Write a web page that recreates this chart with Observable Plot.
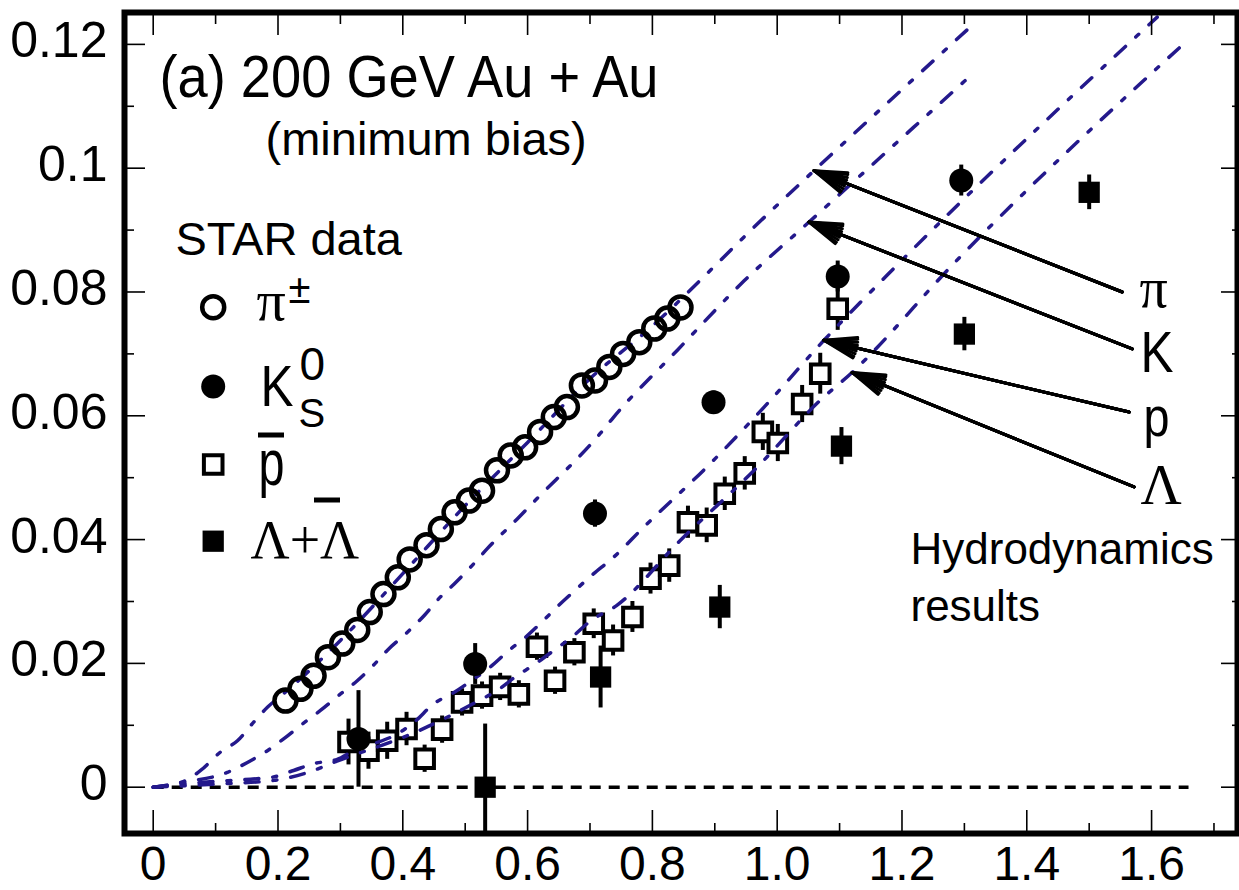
<!DOCTYPE html>
<html><head><meta charset="utf-8">
<script src="https://cdn.jsdelivr.net/npm/d3@7"></script>
<script src="https://cdn.jsdelivr.net/npm/@observablehq/plot@0.6"></script>
<style>body{margin:0;background:#fff} #chart svg{display:block}</style>
</head><body><div id="chart"></div><script>
// ---- axes ----
const xMajor = [0, 0.2, 0.4, 0.6, 0.8, 1.0, 1.2, 1.4, 1.6];
const xMajorLabels = ["0", "0.2", "0.4", "0.6", "0.8", "1.0", "1.2", "1.4", "1.6"];
const xMinor = [0.1, 0.3, 0.5, 0.7, 0.9, 1.1, 1.3, 1.5, 1.7];
const yMajor = [0, 0.02, 0.04, 0.06, 0.08, 0.1, 0.12];
const yMajorLabels = ["0", "0.02", "0.04", "0.06", "0.08", "0.1", "0.12"];
const yMinor = [0.01, 0.03, 0.05, 0.07, 0.09, 0.11];
const xDomain = [-0.046, 1.7377];
const yDomain = [-0.00748, 0.12515];

// ---- STAR data ----
const pionPt = [0.212,0.236,0.257,0.280,0.303,0.327,0.347,0.369,0.392,0.411,0.438,0.461,0.483,0.506,0.527,0.551,0.573,0.596,0.620,0.642,0.663,0.687,0.708,0.731,0.753,0.779,0.803,0.824,0.845];
const pionV2 = [0.0140,0.0159,0.0180,0.0210,0.0232,0.0254,0.0283,0.0312,0.0339,0.0368,0.0391,0.0417,0.0444,0.0463,0.0479,0.0512,0.0536,0.0549,0.0574,0.0598,0.0614,0.0649,0.0657,0.0679,0.0700,0.0719,0.0741,0.0757,0.0775];

const kaonPt  = [0.329, 0.516, 0.708, 0.898, 1.097, 1.295];
const kaonV2  = [0.0078, 0.0199, 0.0442, 0.0622, 0.0825, 0.0980];
const kaonErr = [0.0078, 0.0033, 0.0022, 0.0018, 0.0025, 0.0025];

const pbarPt  = [0.313,0.345,0.375,0.406,0.435,0.463,0.495,0.527,0.556,0.586,0.615,0.644,0.675,0.706,0.737,0.768,0.797,0.827,0.857,0.887,0.916,0.948,0.977,1.001,1.040,1.069,1.097];
const pbarV2  = [0.0073,0.0059,0.0075,0.0094,0.0046,0.0093,0.0137,0.0148,0.0162,0.0150,0.0227,0.0172,0.0218,0.0264,0.0237,0.0275,0.0337,0.0358,0.0428,0.0423,0.0474,0.0507,0.0574,0.0556,0.0619,0.0668,0.0773];
const pbarErr = [0.0037,0.0030,0.0030,0.0027,0.0022,0.0022,0.0022,0.0022,0.0022,0.0022,0.0022,0.0022,0.0022,0.0024,0.0025,0.0025,0.0025,0.0027,0.0026,0.0028,0.0027,0.0027,0.0030,0.0030,0.0030,0.0033,0.0035];

const lamPt  = [0.532, 0.717, 0.908, 1.103, 1.300, 1.500];
const lamV2  = [0.0, 0.0178, 0.0291, 0.0551, 0.0732, 0.0961];
const lamErr = [0.0102, 0.0050, 0.0035, 0.0030, 0.0027, 0.0028];

// ---- hydrodynamics curves ----
const hydroPiPt = [0,0.05,0.076,0.108,0.135,0.161,0.183,0.21,0.3,0.4,0.5,0.6,0.7,0.8,0.904,0.952,1.059,1.2,1.3125];
const hydroPiV2 = [0,0.001,0.0027,0.0057,0.0075,0.0105,0.0129,0.0152,0.0237,0.0345,0.0455,0.0557,0.0660,0.0745,0.0846,0.0894,0.0996,0.1127,0.1231];
const hydroKPt = [0,0.049,0.119,0.151,0.183,0.209,0.239,0.268,0.297,0.327,0.353,0.375,0.407,0.434,0.460,0.482,0.511,0.535,0.583,0.612,0.716,0.738,0.840,0.947,1.051,1.304];
const hydroKV2 = [0,0.0008,0.0024,0.0040,0.0059,0.0078,0.0102,0.0124,0.0148,0.0172,0.0197,0.0221,0.0250,0.0277,0.0307,0.0328,0.0358,0.0385,0.0433,0.0463,0.0571,0.0598,0.0706,0.0818,0.0913,0.1144];
const hydroPPt = [0,0.081,0.156,0.19,0.225,0.257,0.295,0.321,0.353,0.391,0.418,0.45,0.482,0.514,0.540,0.570,0.594,0.623,0.647,0.676,0.706,0.735,0.786,0.893,0.979,1.075,1.176,1.609];
const hydroPV2 = [0,0.0008,0.0013,0.0016,0.0027,0.0038,0.0045,0.0059,0.0070,0.0086,0.0105,0.0135,0.0153,0.0175,0.0194,0.0221,0.0240,0.0267,0.0291,0.0318,0.0345,0.0369,0.042,0.0523,0.0614,0.0722,0.0827,0.1244];
const hydroLPt = [0,0.1,0.193,0.257,0.289,0.321,0.359,0.423,0.455,0.522,0.551,0.580,0.612,0.642,0.674,0.70,0.742,0.845,0.968,1.069,1.12,1.283,1.657];
const hydroLV2 = [0,0.0005,0.0011,0.0027,0.0040,0.0052,0.0065,0.0090,0.0105,0.0140,0.0156,0.0178,0.0199,0.0221,0.0245,0.0268,0.0293,0.0399,0.0517,0.0625,0.0670,0.0846,0.1206];

// ---- arrows (tail -> tip on curve) ----
const arrowNames = ["π", "K", "p", "Λ"];
const arrowTailPt = [1.553, 1.569, 1.564, 1.572];
const arrowTailV2 = [0.0800, 0.0708, 0.0606, 0.0485];
const arrowTipPt  = [1.059, 1.051, 1.0747, 1.120];
const arrowTipV2  = [0.0996, 0.0913, 0.0722, 0.0670];

const zeroLineStart = 0, zeroLineEnd = 1.66;

// ---- build tables ----
const pts = (xs, ys, es) => xs.map((x, i) => ({x, y: ys[i], e: es ? es[i] : 0}));
const pions = pts(pionPt, pionV2);
const kaons = pts(kaonPt, kaonV2, kaonErr);
const pbars = pts(pbarPt, pbarV2, pbarErr);
const lams = pts(lamPt, lamV2, lamErr);
const hydro = [
  ...pts(hydroPiPt, hydroPiV2).map(d => ({...d, s: "pi"})),
  ...pts(hydroKPt, hydroKV2).map(d => ({...d, s: "K"})),
  ...pts(hydroPPt, hydroPV2).map(d => ({...d, s: "p"})),
  ...pts(hydroLPt, hydroLV2).map(d => ({...d, s: "L"}))
];
const arrows = arrowNames.map((n, i) => ({n, x1: arrowTailPt[i], y1: arrowTailV2[i], x2: arrowTipPt[i], y2: arrowTipV2[i]}));

const navy = "#24198c";
const sans = "'Liberation Sans', Arial, sans-serif";
const serif = "'Liberation Serif', 'Times New Roman', serif";
const txt = (s, dx, dy, size, extra = {}) => Plot.text([s], {
  frameAnchor: "top-left", dx, dy, text: d => d, textAnchor: "start", lineAnchor: "bottom",
  fontSize: size, fontFamily: sans, fill: "black", ...extra
});
const barSymbol = {draw(ctx) { ctx.moveTo(-13, -2.5); ctx.lineTo(13, -2.5); ctx.lineTo(13, 2.5); ctx.lineTo(-13, 2.5); ctx.closePath(); }};
const legendDot = (dx, dy, o) => Plot.dot(["m"], {frameAnchor: "top-left", dx, dy, ...o});

const errRule = (data, extra = {}) => Plot.ruleX(data, {x: "x", y1: d => d.y - d.e, y2: d => d.y + d.e, stroke: "black", strokeWidth: 4, clip: true, ...extra});

const plot = Plot.plot({
  width: 1239, height: 890,
  marginLeft: 124, marginRight: 2, marginTop: 12, marginBottom: 57,
  style: {fontFamily: sans, background: "white", color: "black"},
  x: {domain: xDomain},
  y: {domain: yDomain},
  marks: [
    Plot.ruleY([0], {x1: zeroLineStart, x2: zeroLineEnd, stroke: "black", strokeWidth: 3.5, strokeDasharray: "11,8"}),
    errRule(pbars),
    errRule(kaons),
    errRule(lams),
    Plot.dot(pbars, {x: "x", y: "y", symbol: "square", r: 10.5, stroke: "black", strokeWidth: 4, fill: "white"}),
    Plot.line(hydro, {x: "x", y: "y", z: "s", stroke: navy, strokeWidth: 3.5, strokeDasharray: "14,14,4,14", curve: "monotone-x"}),
    Plot.dot(pions, {x: "x", y: "y", r: 11, stroke: "black", strokeWidth: 4.5, fill: "none"}),
    Plot.dot(kaons, {x: "x", y: "y", r: 12, fill: "black"}),
    Plot.dot(lams, {x: "x", y: "y", symbol: "square", r: 12, fill: "black"}),
    ...[0, 10, 20, 30, 36].map(a => Plot.arrow(arrows, {x1: "x1", y1: "y1", x2: "x2", y2: "y2", stroke: "black", strokeWidth: 3, headAngle: a, headLength: 17})),

    // title block
    txt("(a) 200 GeV Au + Au", 35, 84, 60),
    txt("(minimum bias)", 141, 142, 47),
    txt("STAR data", 51, 242, 47),

    // legend
    legendDot(88.7, 294.7, {r: 11, stroke: "black", strokeWidth: 4.5, fill: "none"}),
    legendDot(88.7, 374, {r: 12, fill: "black"}),
    legendDot(88.7, 452, {symbol: "square", r: 10.5, stroke: "black", strokeWidth: 4, fill: "white"}),
    legendDot(88.7, 528.7, {symbol: "square", r: 12, fill: "black"}),
    txt("π", 132, 307, 58, {fontFamily: serif}),
    txt("±", 164, 290, 40),
    txt("K", 136, 393, 58),
    txt("0", 175, 367, 46),
    txt("S", 174, 414, 40),
    txt("p", 134, 472, 64),
    legendDot(146.5, 422.5, {symbol: barSymbol, fill: "black"}),
    txt("Λ+Λ", 126, 545, 54, {fontFamily: serif}),
    legendDot(202.5, 487.5, {symbol: barSymbol, fill: "black"}),

    // hydro labels
    txt("π", 1015, 294, 56, {fontFamily: serif}),
    txt("K", 1016, 359, 58),
    txt("p", 1019, 423, 56),
    txt("Λ", 1016, 491, 57, {fontFamily: serif}),
    txt("Hydrodynamics", 786, 551, 44),
    txt("results", 786, 608, 44),

    // axes: inward ticks
    Plot.axisX({anchor: "bottom", ticks: xMajor, tickSize: -23, strokeWidth: 1.6, tickFormat: () => "", label: null}),
    Plot.axisX({anchor: "bottom", ticks: xMinor, tickSize: -10, strokeWidth: 1.6, tickFormat: () => "", label: null}),
    Plot.axisX({anchor: "top", ticks: xMajor, tickSize: -22, strokeWidth: 1.6, tickFormat: () => "", label: null}),
    Plot.axisX({anchor: "top", ticks: xMinor, tickSize: -11, strokeWidth: 1.6, tickFormat: () => "", label: null}),
    Plot.axisY({anchor: "left", ticks: yMajor, tickSize: -21, strokeWidth: 1.6, tickFormat: () => "", label: null}),
    Plot.axisY({anchor: "left", ticks: yMinor, tickSize: -10, strokeWidth: 1.6, tickFormat: () => "", label: null}),
    Plot.axisY({anchor: "right", ticks: yMajor, tickSize: -17, strokeWidth: 1.6, tickFormat: () => "", label: null}),
    Plot.axisY({anchor: "right", ticks: yMinor, tickSize: -6, strokeWidth: 1.6, tickFormat: () => "", label: null}),
    // axis labels
    Plot.axisX({anchor: "bottom", ticks: xMajor, tickSize: 0, tickPadding: 12, fontSize: 48, tickFormat: d => xMajorLabels[xMajor.indexOf(d)], label: null}),
    Plot.axisY({anchor: "left", ticks: yMajor, tickSize: 0, tickPadding: 17, dy: -3, fontSize: 50, tickFormat: d => yMajorLabels[yMajor.indexOf(d)], label: null}),
    Plot.frame({stroke: "black", strokeWidth: 6})
  ]
});
// narrow a few glyph runs to the reference's condensed lettering
const fitText = (s, len) => plot.querySelectorAll("text").forEach(t => {
  if (t.textContent === s) { t.setAttribute("textLength", len); t.setAttribute("lengthAdjust", "spacingAndGlyphs"); }
});
fitText("(a) 200 GeV Au + Au", 499);
fitText("K", 33);
fitText("p", 26);
document.getElementById("chart").appendChild(plot);
</script></body></html>
